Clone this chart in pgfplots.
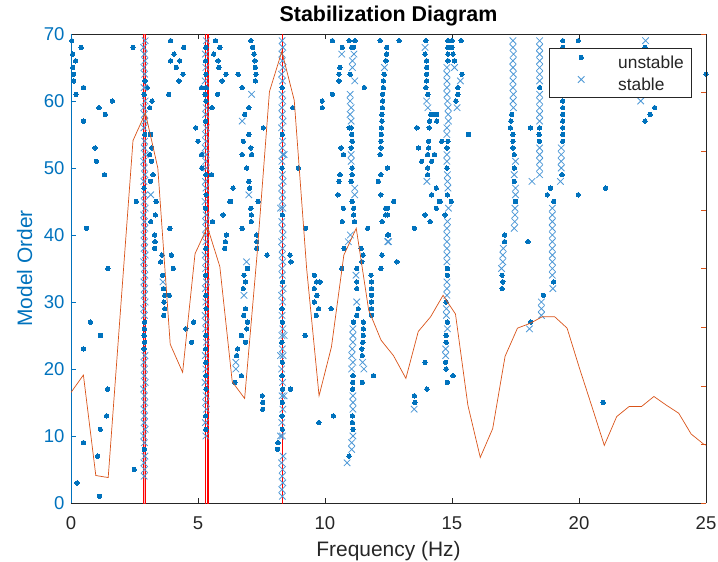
\documentclass[border=0pt]{standalone}
\usepackage{fontspec}
\setmainfont{Liberation Sans}
\usepackage{pgfplots}
\pgfplotsset{compat=1.18}
\definecolor{mblue}{RGB}{0,114,189}
\definecolor{xblue}{RGB}{77,152,214}
\definecolor{morange}{RGB}{217,83,25}
\definecolor{axgray}{RGB}{38,38,38}
\definecolor{mred}{RGB}{255,0,0}
\definecolor{mpink}{RGB}{245,120,130}
\begin{document}
\begin{tikzpicture}
\path[use as bounding box] (-71bp,-59bp) rectangle (647bp,503bp);
\begin{axis}[
  at={(0,0)}, anchor=south west,
  scale only axis, width=635bp, height=469bp,
  xmin=0, xmax=25, ymin=0, ymax=70,
  xtick={0,5,10,15,20,25}, ytick={0,10,20,30,40,50,60,70},
  axis x line*=box, axis y line*=left,
  x axis line style={draw=axgray,-},
  y axis line style={draw=mblue,-},
  xtick pos=both, ytick pos=left,
  tick align=inside, major tick length=5bp,
  xtick style={draw=axgray, line width=0.5bp},
  ytick style={draw=mblue, line width=0.5bp},
  /pgf/number format/assume math mode=true,
  tick label style={font=\fontsize{18.6}{22}\selectfont},
  xticklabel style={anchor=base, yshift=-26bp, text=axgray},
  yticklabel style={text=mblue, xshift=-3bp},
  xlabel={Frequency (Hz)}, ylabel={Model Order},
  xlabel style={at={(axis description cs:0.5,-0.1151)}, anchor=base, font=\fontsize{21}{25}\selectfont, text=axgray},
  ylabel style={at={(axis description cs:-0.0614,0.5)}, anchor=base, font=\fontsize{21}{25}\selectfont, text=mblue},
  title={Stabilization Diagram},
  title style={at={(axis description cs:0.5,1.0143)}, anchor=base, font=\fontsize{21.5}{25}\selectfont\bfseries, text=black},
  legend style={at={(axis description cs:0.9764,0.9701)}, anchor=north east, draw=axgray, fill=white, line width=0.5bp,
    font=\fontsize{17.4}{20}\selectfont, text=axgray, inner xsep=7bp, inner ysep=7bp, row sep=8bp, column sep=12bp,
    nodes={inner sep=0bp, text height=12.5bp, text depth=0bp}, cells={anchor=west}},
  legend image code/.code={\path[draw=none,fill=none] (0bp,0bp) -- (50bp,0bp); \draw[#1] plot coordinates {(25bp,4.5bp)};},
]
% unstable poles
\addplot[mblue, only marks, mark=*, mark size=2.2bp, mark options={solid, fill=mblue, draw=mblue, line width=0pt}] coordinates {
(0.03,69) (0.40,68) (0.07,67) (0.18,66) (0.07,65) (0.10,64) (0.11,63) (0.49,62) (0.20,61) (1.63,60)
(1.10,59) (1.35,58) (0.49,57) (0.95,53) (1.00,51) (1.32,49) (0.61,41) (1.45,35) (0.76,27) (1.16,25)
(0.49,23) (1.44,17) (1.40,13) (1.15,11) (0.49,9) (1.05,7) (0.24,3) (1.12,1) (2.49,5) (2.44,68) (2.57,45)
(2.89,8) (2.88,23) (2.90,24) (2.88,25) (2.89,26) (2.90,27) (2.88,47) (2.90,55) (2.88,61) (2.91,63)
(3.00,62) (3.19,60) (3.10,59) (3.13,55) (3.18,53) (3.10,52) (3.17,51) (3.23,49) (3.13,48) (3.35,45)
(3.32,43) (3.14,42) (3.29,40) (3.31,39) (3.29,38) (3.58,37) (3.53,36) (3.61,34) (3.64,32) (3.69,31)
(3.87,31) (3.66,30) (3.69,29) (3.65,28) (4.03,35) (3.95,37) (3.85,61) (3.92,69) (4.06,67) (3.92,66)
(4.28,66) (4.15,65) (4.41,64) (4.25,63) (4.44,68) (3.89,41) (4.52,26) (4.83,27) (4.75,24)
(5.31,11) (5.30,13) (5.32,17) (5.31,19) (5.31,21) (5.30,23) (5.31,25) (5.32,29) (5.31,31) (5.30,34)
(5.31,38) (5.29,44) (5.32,46) (5.31,49) (5.30,57) (5.31,60) (5.28,61) (5.33,62) (5.31,64) (5.30,66) (5.31,68)
(5.14,62) (4.91,56) (5.00,54) (5.14,52) (5.15,50) (5.69,69) (5.86,68) (5.62,67) (5.79,66) (5.82,65)
(6.10,64) (5.95,63) (5.77,61) (5.55,59) (5.53,49) (5.99,43) (5.57,42) (6.12,40) (6.08,39) (6.25,45) (6.05,38)
(7.08,69) (7.15,68) (7.21,67) (7.24,66) (7.26,65) (7.28,64) (7.26,63) (6.74,62) (6.58,64) (7.00,59)
(6.84,58) (7.00,55) (6.78,54) (7.08,53) (6.74,52) (7.11,52) (6.92,50) (7.00,48) (7.03,47) (6.38,47)
(6.29,45) (7.37,45) (7.08,44) (7.10,43) (7.10,42) (6.74,41) (7.31,40) (7.31,39) (7.31,38) (7.72,37)
(6.95,35) (7.57,56) (6.81,34) (6.87,33) (6.78,32) (6.87,29) (6.80,28) (6.95,27) (6.92,26) (6.71,25)
(6.87,24) (6.56,23) (6.52,22) (6.71,19) (6.45,18) (7.53,16) (7.55,15) (7.55,14)
(8.13,8) (8.15,9) (8.32,11) (8.31,13) (8.32,15) (8.33,17) (8.31,19) (8.32,21) (8.30,24) (8.32,27)
(8.31,29) (8.33,33) (8.32,43) (8.31,50) (8.32,55) (8.31,62)
(8.73,59) (9.24,41) (8.95,50) (8.62,37) (8.66,36) (8.64,17) (9.22,25) (9.58,34) (9.67,33) (9.80,33)
(9.58,32) (9.68,31) (9.58,30) (9.75,29) (10.24,29) (9.66,28) (9.76,12) (10.33,13) (10.66,35) (10.29,69)
(10.68,68) (9.89,60) (9.89,59) (10.29,61) (10.59,65) (10.55,64) (10.55,63) (11.55,62)
(10.95,69) (11.18,69) (11.05,68) (11.12,68) (10.99,64) (11.03,56) (10.95,56) (11.05,55) (11.07,54) (11.03,53)
(10.63,53) (10.73,52) (11.07,50) (11.07,49) (11.03,48) (10.59,49) (10.55,48) (10.51,46) (11.07,45) (10.72,44)
(11.13,44) (11.13,43) (11.16,42) (11.68,41) (10.68,42) (11.42,38) (11.50,37) (11.45,36) (10.75,38) (11.25,35)
(11.25,33) (11.25,32) (11.31,29) (11.25,28) (11.12,27) (11.10,19) (11.09,18) (11.09,17) (11.08,13) (11.08,12)
(11.10,11) (10.95,7) (11.51,27) (11.51,26) (11.51,25) (11.49,24) (11.45,23) (11.47,22) (11.91,19) (11.47,18)
(11.81,34) (11.83,33) (11.83,32) (11.83,31) (11.83,30) (11.83,29) (11.83,28) (12.20,35) (12.24,37) (12.83,36)
(12.50,40) (12.25,42) (12.39,43) (12.39,44) (12.70,45) (12.20,46) (12.10,48) (12.20,49) (12.46,50) (12.17,52)
(12.20,53) (12.20,54) (12.22,55) (12.22,56) (12.24,57) (12.24,58) (12.26,59) (12.27,60) (12.27,61) (12.30,62)
(12.30,63) (12.33,64) (12.40,66) (12.43,67) (12.43,68) (12.17,69) (12.92,69)
(13.97,69) (13.94,67) (14.00,66) (14.00,65) (14.00,64) (14.00,63) (13.97,62) (14.05,61) (14.17,58) (14.30,58)
(14.40,58) (14.12,57) (14.40,57) (13.62,56) (14.10,56) (15.65,55) (14.08,54) (13.68,53) (14.08,53) (14.04,52)
(14.31,52) (13.81,51) (14.20,51) (14.04,50) (14.04,49) (14.38,47) (14.20,46) (14.54,45) (14.38,44) (13.94,43)
(14.14,42) (13.52,41) (12.47,44) (12.47,43) (12.47,40) (13.94,21) (14.01,17) (13.52,16) (13.54,15)
(14.84,69) (15.00,69) (15.36,69) (14.84,68) (15.00,68) (14.84,67) (15.04,67) (14.84,66) (15.10,66) (15.39,64)
(15.23,62) (15.23,61) (15.15,60) (14.60,54) (14.84,54) (14.80,53) (14.80,50) (14.82,46) (14.97,45) (14.50,45)
(14.73,43) (14.82,35) (14.82,34) (14.77,30) (14.82,27) (14.77,25) (14.77,24) (14.75,21) (14.77,20) (15.04,19) (14.82,18)
(17.35,58) (17.30,56) (17.32,57) (17.40,55) (17.40,54) (17.40,53) (17.45,52) (17.45,50) (17.45,48) (17.50,45)
(17.07,40) (17.07,39) (16.97,34) (17.00,33) (16.97,32)
(18.45,62) (18.45,56) (18.43,55) (18.44,54) (18.09,56) (17.99,39) (18.75,46) (18.88,47) (18.60,31) (18.10,27)
(19.00,45) (19.00,33)
(19.36,69) (19.36,68) (19.36,67) (19.36,66) (19.36,65) (19.36,64) (19.36,63) (19.36,62) (19.36,61) (19.36,60)
(19.36,59) (19.36,58) (19.36,57) (19.36,56) (19.36,55) (19.36,54) (19.33,49)
(19.97,46) (21.05,47) (19.97,69) (20.95,15) (22.60,68) (22.98,59) (22.80,58) (22.60,57) (25.00,64)
};
\addlegendentry{unstable}
% stable poles
\addplot[xblue, only marks, mark=x, mark size=4.6bp, mark options={solid, draw=xblue, line width=0.8bp}] coordinates {
(2.88,4) (2.90,5) (2.87,6) (2.91,7) (2.89,9) (2.86,10) (2.92,11) (2.88,12) (2.90,13) (2.87,14)
(2.91,15) (2.89,16) (2.86,17) (2.92,18) (2.88,19) (2.90,20) (2.87,21) (2.91,22) (2.89,28) (2.86,29)
(2.92,30) (2.88,31) (2.90,32) (2.87,33) (2.91,34) (2.89,35) (2.86,36) (2.92,37) (2.88,38) (2.90,39)
(2.87,40) (2.91,41) (2.89,42) (2.86,43) (2.92,44) (2.88,45) (2.90,46) (2.87,48) (2.91,49) (2.89,50)
(2.86,51) (2.92,52) (2.88,53) (2.90,54) (2.87,56) (2.91,57) (2.89,58) (2.86,59) (2.92,60) (2.88,62)
(2.90,64) (2.87,65) (2.91,66) (2.89,67) (2.86,68) (2.92,69) (3.14,46) (3.62,33)
(5.31,10) (5.29,12) (5.33,14) (5.30,15) (5.32,16) (5.28,18) (5.31,20) (5.29,22) (5.33,24) (5.30,26)
(5.32,27) (5.28,28) (5.31,30) (5.29,32) (5.33,33) (5.30,35) (5.32,36) (5.28,37) (5.31,39) (5.29,40)
(5.33,41) (5.30,42) (5.32,43) (5.28,45) (5.31,47) (5.29,48) (5.33,50) (5.30,51) (5.32,52) (5.28,53)
(5.31,54) (5.29,55) (5.33,56) (5.30,58) (5.32,59) (5.28,63) (5.31,65) (5.29,67) (5.33,69)
(7.11,61) (6.74,57) (7.00,46) (6.91,36) (6.81,31) (6.49,21) (6.49,20)
(8.32,1) (8.30,2) (8.34,3) (8.31,4) (8.33,5) (8.29,6) (8.35,7) (8.32,10) (8.30,12) (8.34,14)
(8.31,16) (8.33,18) (8.29,20) (8.35,22) (8.32,23) (8.30,25) (8.34,26) (8.31,28) (8.33,30) (8.29,31)
(8.35,32) (8.32,34) (8.30,35) (8.34,36) (8.31,37) (8.33,38) (8.29,39) (8.35,40) (8.32,41) (8.30,42)
(8.34,44) (8.31,45) (8.33,46) (8.29,47) (8.35,48) (8.32,49) (8.30,51) (8.34,52) (8.31,53) (8.33,54)
(8.29,56) (8.35,57) (8.32,58) (8.30,59) (8.34,60) (8.31,61) (8.33,63) (8.29,64) (8.35,65) (8.32,66)
(8.30,67) (8.34,68) (8.31,69) (8.25,10) (8.39,16) (8.25,22) (8.39,25) (8.25,44) (8.39,52)
(10.66,67) (11.14,67) (11.08,66) (11.08,65) (11.17,63) (10.99,61) (10.99,60) (11.03,59) (10.99,58) (11.03,57)
(11.03,52) (11.03,51) (11.17,47) (11.17,46) (10.92,39) (11.00,40) (11.22,34) (11.25,30) (11.10,26) (11.10,25)
(11.10,24) (11.07,23) (11.05,22) (11.10,21) (11.48,21) (11.53,20) (11.05,20) (11.10,16) (11.10,15) (11.10,14)
(11.10,10) (11.05,9) (11.05,8) (10.87,6)
(12.34,65) (12.50,39) (13.94,68) (14.00,60) (14.05,59) (14.01,48) (13.51,14) (12.47,39)
(14.80,65) (15.10,65) (15.33,63) (14.80,64) (14.80,63) (14.80,62) (14.80,61) (14.82,60) (15.20,59) (14.85,59)
(14.85,58) (14.86,57) (14.80,56) (14.80,55) (14.80,52) (14.80,51) (14.82,49) (14.82,48) (14.84,47) (14.86,44)
(14.82,42) (14.80,41) (14.80,40) (14.80,39) (14.80,38) (14.80,37) (14.80,36) (14.80,33) (14.80,32) (14.80,31)
(14.78,29) (14.78,28) (14.82,26) (14.75,23) (14.75,22)
(17.40,69) (17.40,68) (17.42,67) (17.40,66) (17.40,65) (17.42,64) (17.40,63) (17.40,62) (17.42,61) (17.40,60)
(17.42,59) (17.50,51) (17.45,49) (17.50,47) (17.50,46) (17.48,44) (17.48,43) (17.47,42) (17.45,41) (17.02,38)
(17.00,37) (17.00,36) (16.95,35)
(18.45,69) (18.45,68) (18.45,67) (18.45,66) (18.45,65) (18.45,64) (18.45,63) (18.45,61) (18.45,60) (18.45,59)
(18.45,58) (18.45,57) (18.45,53) (18.45,52) (18.45,51) (18.45,50) (18.45,49) (18.15,48)
(18.52,30) (18.52,29) (18.52,28) (18.05,26)
(18.95,44) (18.95,43) (18.95,42) (18.95,41) (18.95,40) (18.95,39) (18.95,38) (18.95,37) (18.95,36) (18.95,35)
(18.95,34) (18.97,32)
(19.30,53) (19.30,52) (19.30,51) (19.30,50) (19.27,48)
(22.62,69) (22.43,60)
};
\addlegendentry{stable}
% selected modes
\addplot[draw=none, fill=mpink, fill opacity=0.55, forget plot] coordinates {(2.83,-0.3) (2.95,-0.3) (2.95,70) (2.83,70)};
\addplot[draw=mred, line width=1.3bp, forget plot] coordinates {(2.85,-0.3) (2.85,70)};
\addplot[draw=mred, line width=1.3bp, forget plot] coordinates {(2.93,-0.3) (2.93,70)};
\addplot[draw=mred, line width=1.5bp, forget plot] coordinates {(5.30,-0.3) (5.30,70)};
\addplot[draw=mred, line width=1.5bp, forget plot] coordinates {(5.39,-0.3) (5.39,70)};
\addplot[draw=mred, line width=1.6bp, forget plot] coordinates {(8.32,-0.3) (8.32,70)};
\end{axis}
\begin{axis}[
  at={(0,0)}, anchor=south west,
  scale only axis, width=635bp, height=469bp,
  xmin=0, xmax=25, ymin=0, ymax=70,
  hide x axis, axis y line*=right,
  y axis line style={draw=axgray,-},
  ytick={0,8.75,17.5,26.25,35,43.75,52.5,61.25,70}, yticklabels={},
  ytick style={draw=morange, line width=0.5bp},
  tick align=inside, major tick length=5bp,
]
\addplot[morange, line width=0.7bp] coordinates {
(0.000,16.5) (0.488,19.1) (0.977,4.1) (1.465,3.8) (1.953,29.0) (2.441,54.1) (2.930,58.2) (3.418,50.0)
(3.906,23.7) (4.395,19.5) (4.883,37.2) (5.371,41.2) (5.859,35.3) (6.348,18.1) (6.836,15.6) (7.324,37.0)
(7.813,61.4) (8.301,67.4) (8.789,60.1) (9.277,35.0) (9.766,16.0) (10.254,23.3) (10.742,37.0) (11.230,41.0)
(11.719,28.8) (12.207,24.3) (12.695,22.0) (13.184,18.6) (13.672,25.6) (14.160,27.8) (14.648,31.0) (15.137,28.2)
(15.625,14.6) (16.113,6.8) (16.602,11.1) (17.090,21.9) (17.578,26.1) (18.066,26.8) (18.555,27.8) (19.043,27.8)
(19.531,26.1) (20.020,20.1) (20.508,14.4) (20.996,8.6) (21.484,12.9) (21.973,14.4) (22.461,14.4) (22.949,15.9)
(23.438,14.6) (23.926,13.4) (24.414,10.3) (24.902,8.8) (25.391,8.0)
};
\end{axis}
\end{tikzpicture}
\end{document}
